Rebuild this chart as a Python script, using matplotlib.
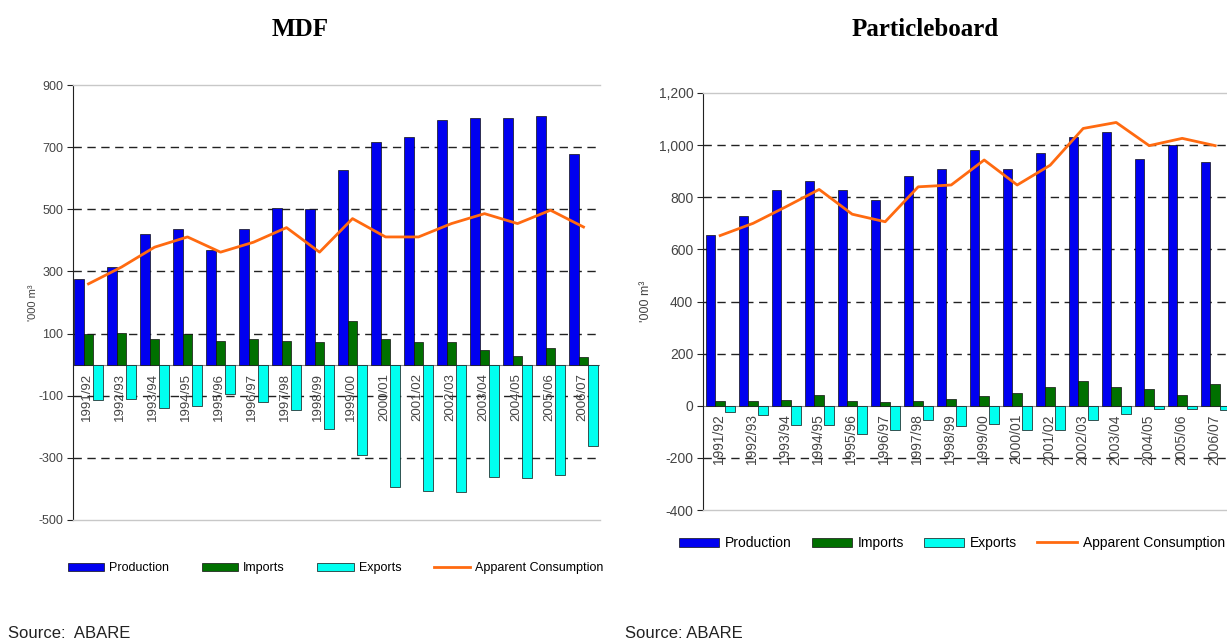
import matplotlib
matplotlib.use("Agg")
import matplotlib.pyplot as plt
import numpy as np
from matplotlib.patches import Patch
from matplotlib.lines import Line2D

years = ["1991/92", "1992/93", "1993/94", "1994/95", "1995/96", "1996/97", "1997/98", "1998/99",
         "1999/00", "2000/01", "2001/02", "2002/03", "2003/04", "2004/05", "2005/06", "2006/07"]

mdf_production = [275, 315, 420, 435, 370, 435, 505, 500, 625, 715, 732, 787, 794, 794, 800, 677]
mdf_imports = [100, 102, 84, 100, 77, 84, 77, 74, 139, 84, 74, 74, 48, 29, 52, 23]
mdf_exports = [-113, -110, -139, -132, -94, -119, -145, -206, -290, -394, -406, -410, -361, -365, -355, -261]
mdf_consumption = [260, 314, 378, 411, 362, 394, 441, 362, 470, 411, 411, 454, 486, 454, 497, 443]

pb_production = [656, 728, 827, 863, 827, 788, 882, 908, 981, 908, 968, 1032, 1049, 945, 1000, 936]
pb_imports = [20, 20, 22, 40, 20, 15, 20, 25, 38, 48, 72, 95, 72, 63, 40, 85]
pb_exports = [-24, -37, -75, -75, -107, -94, -56, -77, -71, -92, -92, -53, -30, -13, -13, -17]
pb_consumption = [653, 700, 764, 830, 735, 706, 840, 847, 943, 847, 923, 1064, 1087, 998, 1026, 998]

mdf_ticks = [-500, -300, -100, 100, 300, 500, 700, 900]
pb_ticks = [-400, -200, 0, 200, 400, 600, 800, 1000, 1200]

C_PROD = "#0000F0"
C_IMP = "#007000"
C_EXP = "#00FFF0"
C_CONS = "#FF6A10"

fig = plt.figure(figsize=(12.27, 6.44), dpi=100)
fig.patch.set_facecolor("white")


def draw(ax, prod, imp, exp, cons, ticks, ylim, xlim, tickfs, labfs, tickfmt):
    x = np.arange(len(years))
    w = 0.29
    ax.bar(x - w, prod, w, color=C_PROD, edgecolor="#101010", linewidth=0.5, zorder=3)
    ax.bar(x, imp, w, color=C_IMP, edgecolor="#101010", linewidth=0.5, zorder=3)
    ax.bar(x + w, exp, w, color=C_EXP, edgecolor="#101010", linewidth=0.5, zorder=3)
    ax.plot(x, cons, color=C_CONS, linewidth=2.0, zorder=4)
    ax.set_ylim(*ylim)
    ax.set_xlim(*xlim)
    ax.set_yticks(ticks)
    ax.set_yticklabels([tickfmt(t) for t in ticks], fontsize=tickfs, color="#444444",
                       family="Liberation Sans")
    ax.set_xticks([])
    for t in ticks:
        if ylim[0] < t < ylim[1] and t != 0:
            ax.axhline(t, color="#222222", linestyle=(0, (6, 4)), linewidth=1.0, zorder=1)
    ax.axhline(0, color="#888888", linewidth=0.8, zorder=2)
    for s in ["top", "right", "bottom"]:
        ax.spines[s].set_color("#c8c8c8")
        ax.spines[s].set_linewidth(1.0)
    ax.spines["right"].set_visible(False)
    ax.spines["left"].set_color("#222222")
    ax.tick_params(axis="y", direction="out", length=4, width=0.8, color="#222222", pad=3)
    for i, lab in enumerate(years):
        ax.annotate(lab, xy=(i, 0), xytext=(-1, -6), textcoords="offset points",
                    rotation=90, ha="center", va="top", fontsize=labfs, color="#444444",
                    family="Liberation Sans", zorder=2.5)


ax1 = fig.add_axes([73 / 1227, 1 - 520 / 644, 527 / 1227, 435 / 644])
draw(ax1, mdf_production, mdf_imports, mdf_exports, mdf_consumption, mdf_ticks,
     (-500, 900), (-0.47, 15.5), 9, 9.5, lambda t: f"{t}")
ax1.set_ylabel("'000 m\u00b3", fontsize=8, color="#444444", family="Liberation Sans", labelpad=0)

ax2 = fig.add_axes([703 / 1227, 1 - 510 / 644, 532 / 1227, 417 / 644])
draw(ax2, pb_production, pb_imports, pb_exports, pb_consumption, pb_ticks,
     (-400, 1200), (-0.52, 15.6), 10, 10, lambda t: f"{t:,}")
ax2.set_ylabel("'000 m\u00b3", fontsize=9, color="#444444", family="Liberation Sans", labelpad=5)

fig.text(300 / 1227, 1 - 30 / 644, "MDF", ha="center", va="center", fontsize=18,
         fontweight="bold", family="Liberation Serif")
fig.text(925 / 1227, 1 - 30 / 644, "Particleboard", ha="center", va="center", fontsize=18,
         fontweight="bold", family="Liberation Serif")

handles = [Patch(facecolor=C_PROD, edgecolor="#101010", linewidth=0.5),
           Patch(facecolor=C_IMP, edgecolor="#101010", linewidth=0.5),
           Patch(facecolor=C_EXP, edgecolor="#101010", linewidth=0.5),
           Line2D([], [], color=C_CONS, linewidth=2)]
names = ["Production", "Imports", "Exports", "Apparent Consumption"]

fig.legend(handles, names, loc="center left", bbox_to_anchor=(68 / 1227, 1 - 568 / 644),
           ncol=4, frameon=False, prop={"family": "Liberation Sans", "size": 9},
           handlelength=2.9, handleheight=0.6, handletextpad=0.4, columnspacing=2.6,
           borderaxespad=0, borderpad=0)
fig.legend(handles, names, loc="center left", bbox_to_anchor=(679 / 1227, 1 - 543 / 644),
           ncol=4, frameon=False, prop={"family": "Liberation Sans", "size": 10},
           handlelength=2.9, handleheight=0.6, handletextpad=0.4, columnspacing=1.45,
           borderaxespad=0, borderpad=0)

fig.text(8 / 1227, 1 - 634 / 644, "Source:  ABARE", ha="left", va="center", fontsize=12,
         family="Liberation Sans", color="#222222")
fig.text(625 / 1227, 1 - 634 / 644, "Source: ABARE", ha="left", va="center", fontsize=12,
         family="Liberation Sans", color="#222222")

fig.savefig("out.png", dpi=100, facecolor="white")
